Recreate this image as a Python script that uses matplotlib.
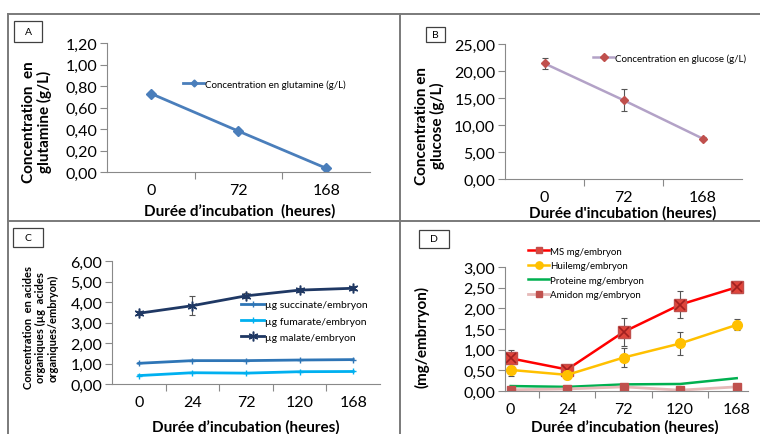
import matplotlib
matplotlib.use('Agg')
import matplotlib.pyplot as plt
from matplotlib.lines import Line2D
from matplotlib.patches import Rectangle
from matplotlib.ticker import FuncFormatter, FixedLocator, MultipleLocator
import numpy as np

plt.rcParams['font.family'] = ['Lato', 'DejaVu Sans']

W, H = 760, 435

# --- data ---
hours3 = ['0', '72', '168']
hours5 = ['0', '24', '72', '120', '168']

glutamine = [0.73, 0.38, 0.035]

glucose = [21.4, 14.6, 7.5]
glucose_err = [1.1, 2.0, 0.3]

succinate = [1.01, 1.14, 1.14, 1.17, 1.19]
fumarate = [0.41, 0.55, 0.53, 0.60, 0.61]
malate = [3.45, 3.82, 4.30, 4.58, 4.67]
malate_err = [0.10, 0.45, 0.12, 0.10, 0.10]

ms = [0.79, 0.52, 1.43, 2.09, 2.51]
ms_err = [0.19, 0.03, 0.34, 0.33, 0.15]
huile = [0.51, 0.39, 0.81, 1.15, 1.60]
huile_err = [0.15, 0.10, 0.24, 0.27, 0.13]
proteine = [0.12, 0.10, 0.16, 0.17, 0.31]
amidon = [0.03, 0.05, 0.10, 0.02, 0.10]


def rect(x0, y0, x1, y1):
    return [x0 / W, 1 - y1 / H, (x1 - x0) / W, (y1 - y0) / H]


def fx(x):
    return x / W


def fy(y):
    return 1 - y / H


comma = FuncFormatter(lambda v, p: f'{v:.2f}'.replace('.', ','))
spine_col = '#898989'
err_kw = dict(ecolor='#555555', elinewidth=0.8, capsize=2, capthick=0.8)


def style(ax, n, ymax, ystep, xlim=None):
    for s in ['top', 'right']:
        ax.spines[s].set_visible(False)
    for s in ['left', 'bottom']:
        ax.spines[s].set_color(spine_col)
        ax.spines[s].set_linewidth(0.8)
    ax.set_ylim(0, ymax)
    ax.yaxis.set_major_locator(MultipleLocator(ystep))
    ax.yaxis.set_major_formatter(comma)
    ax.set_xlim(xlim if xlim else (-0.5, n - 0.5))
    ax.set_xticks(range(n))
    ax.xaxis.set_minor_locator(FixedLocator(np.arange(0.5, n - 0.5, 1.0)))
    ax.tick_params(axis='x', which='major', length=0, labelsize=11.5, pad=8)
    ax.tick_params(axis='x', which='minor', length=5, color=spine_col, width=0.8)
    ax.tick_params(axis='y', length=5, color=spine_col, width=0.8, labelsize=11.5, pad=2)
    ax.set_facecolor('none')


fig = plt.figure(figsize=(W / 100, H / 100), dpi=100)

# panel frames
frame = dict(color='#7a7a7a', lw=1.4, transform=fig.transFigure)
fig.add_artist(Line2D([fx(8), 1], [fy(15), fy(15)], **frame))
fig.add_artist(Line2D([fx(8), fx(8)], [fy(15), 0], **frame))
fig.add_artist(Line2D([fx(400), fx(400)], [fy(15), 0], **frame))
fig.add_artist(Line2D([fx(8), 1], [fy(221.5), fy(221.5)], **frame))


def tag(letter, x0, y0, x1, y1):
    fig.add_artist(Rectangle((fx(x0), fy(y1)), fx(x1 - x0), (y1 - y0) / H,
                             transform=fig.transFigure, fill=False,
                             edgecolor='#404040', lw=0.9))
    fig.text(fx((x0 + x1) / 2), fy((y0 + y1) / 2), letter, ha='center',
             va='center', fontsize=7.5)


tag('A', 14, 22, 42, 43)
tag('B', 426, 28, 445, 43)
tag('C', 13, 229, 43, 248)
tag('D', 419, 231, 449, 249)

# --- A ---
axA = fig.add_axes(rect(107, 44, 370, 173))
style(axA, 3, 1.2, 0.2)
axA.set_xticklabels(hours3)
lA, = axA.plot(range(3), glutamine, color='#4A7EBB', lw=2, marker='D', ms=5,
               label='Concentration en glutamine (g/L)')
axA.legend(handles=[lA], loc='center left', bbox_to_anchor=(fx(178), fy(85)),
           bbox_transform=fig.transFigure, frameon=False, fontsize=7,
           handlelength=2.2, handletextpad=0.1, borderpad=0, markerscale=0.7)
fig.text(fx(37), fy(122), 'Concentration  en\nglutamine (g/L)', rotation=90,
         ha='center', va='center', fontsize=11, fontweight='bold', linespacing=1.0)
fig.text(fx(240), fy(211), 'Durée d’incubation  (heures)', ha='center',
         va='center', fontsize=11, fontweight='bold')

# --- B ---
axB = fig.add_axes(rect(505, 45, 742, 180))
style(axB, 3, 25, 5)
axB.set_xticklabels(hours3)
axB.errorbar(range(3), glucose, yerr=glucose_err, fmt='none', **err_kw)
axB.plot(range(3), glucose, color='#B3A2C7', lw=1.8, zorder=2)
axB.plot(range(3), glucose, ls='none', marker='D', ms=4, color='#C0504D', zorder=3)
hB = Line2D([], [], color='#B3A2C7', lw=1.8, marker='D', ms=4,
            mfc='#C0504D', mec='#C0504D')
axB.legend(handles=[hB], labels=['Concentration en glucose (g/L)'],
           loc='center left', bbox_to_anchor=(fx(588), fy(59)),
           bbox_transform=fig.transFigure, frameon=False, fontsize=7,
           handlelength=2.2, handletextpad=0.1, borderpad=0)
fig.text(fx(430), fy(126), 'Concentration en\nglucose (g/L)', rotation=90,
         ha='center', va='center', fontsize=11, fontweight='bold', linespacing=1.0)
fig.text(fx(623), fy(213), "Durée d'incubation (heures)", ha='center',
         va='center', fontsize=11, fontweight='bold')

# --- C ---
axC = fig.add_axes(rect(112, 262, 380, 385))
style(axC, 5, 6, 1)
axC.set_xticklabels(hours5)
lS, = axC.plot(range(5), succinate, color='#2E75B6', lw=2, marker='+', ms=4,
               label='µg succinate/embryon')
lF, = axC.plot(range(5), fumarate, color='#00B0F0', lw=2, marker='+', ms=4,
               label='µg fumarate/embryon')
axC.errorbar(range(5), malate, yerr=malate_err, fmt='none', **err_kw)
lM, = axC.plot(range(5), malate, color='#1F3864', lw=2, marker=(6, 2, 0), ms=7,
               mew=1.1, label='µg malate/embryon')
axC.legend(handles=[lS, lF, lM], loc='upper left',
           bbox_to_anchor=(fx(236), fy(296)), bbox_transform=fig.transFigure,
           frameon=False, fontsize=7.5, handlelength=2.2, handletextpad=0.1,
           borderpad=0, labelspacing=0.65)
fig.text(fx(41), fy(328),
         'Concentration  en acides\norganiques (µg  acides\norganiques/embryon)',
         rotation=90, ha='center', va='center', fontsize=8, fontweight='bold',
         linespacing=1.15)
fig.text(fx(246), fy(427), 'Durée d’incubation (heures)', ha='center',
         va='center', fontsize=11, fontweight='bold')

# --- D ---
axD = fig.add_axes(rect(505, 268, 748, 392))
style(axD, 5, 3, 0.5, xlim=(-0.1, 4.2))
axD.set_xticklabels(hours5)
axD.errorbar(range(5), ms, yerr=ms_err, fmt='none', **err_kw)
axD.errorbar(range(5), huile, yerr=huile_err, fmt='none', **err_kw)
axD.plot(range(5), ms, color='#FF0000', lw=1.8)
axD.plot(range(5), ms, ls='none', marker='s', ms=8, mfc='#E0443A', mec='#C0504D')
axD.plot(range(5), ms, ls='none', marker='x', ms=7, mew=1.2, color='#A02020')
lH, = axD.plot(range(5), huile, color='#FFC000', lw=1.8, marker='o', ms=7)
lP, = axD.plot(range(5), proteine, color='#00B050', lw=1.8)
lA2, = axD.plot(range(5), amidon, color='#E6B9B8', lw=2, marker='s', ms=6,
                mfc='#C0504D', mec='#C0504D')
hMS = Line2D([], [], color='#FF0000', lw=1.8, marker='s', ms=6,
             mfc='#E0443A', mec='#C0504D')
axD.legend(handles=[hMS, lH, lP, lA2],
           labels=['MS mg/embryon', 'Huilemg/embryon', 'Proteine mg/embryon',
                   'Amidon mg/embryon'],
           loc='upper left', bbox_to_anchor=(fx(523), fy(243)),
           bbox_transform=fig.transFigure, frameon=False, fontsize=7,
           handlelength=2.2, handletextpad=0.1, borderpad=0,
           labelspacing=0.55, markerscale=0.75)
fig.text(fx(422), fy(337), '(mg/embrryon)', rotation=90, ha='center',
         va='center', fontsize=11, fontweight='bold')
fig.text(fx(625), fy(427), 'Durée d’incubation (heures)', ha='center',
         va='center', fontsize=11, fontweight='bold')

fig.savefig('out.png', dpi=100)
